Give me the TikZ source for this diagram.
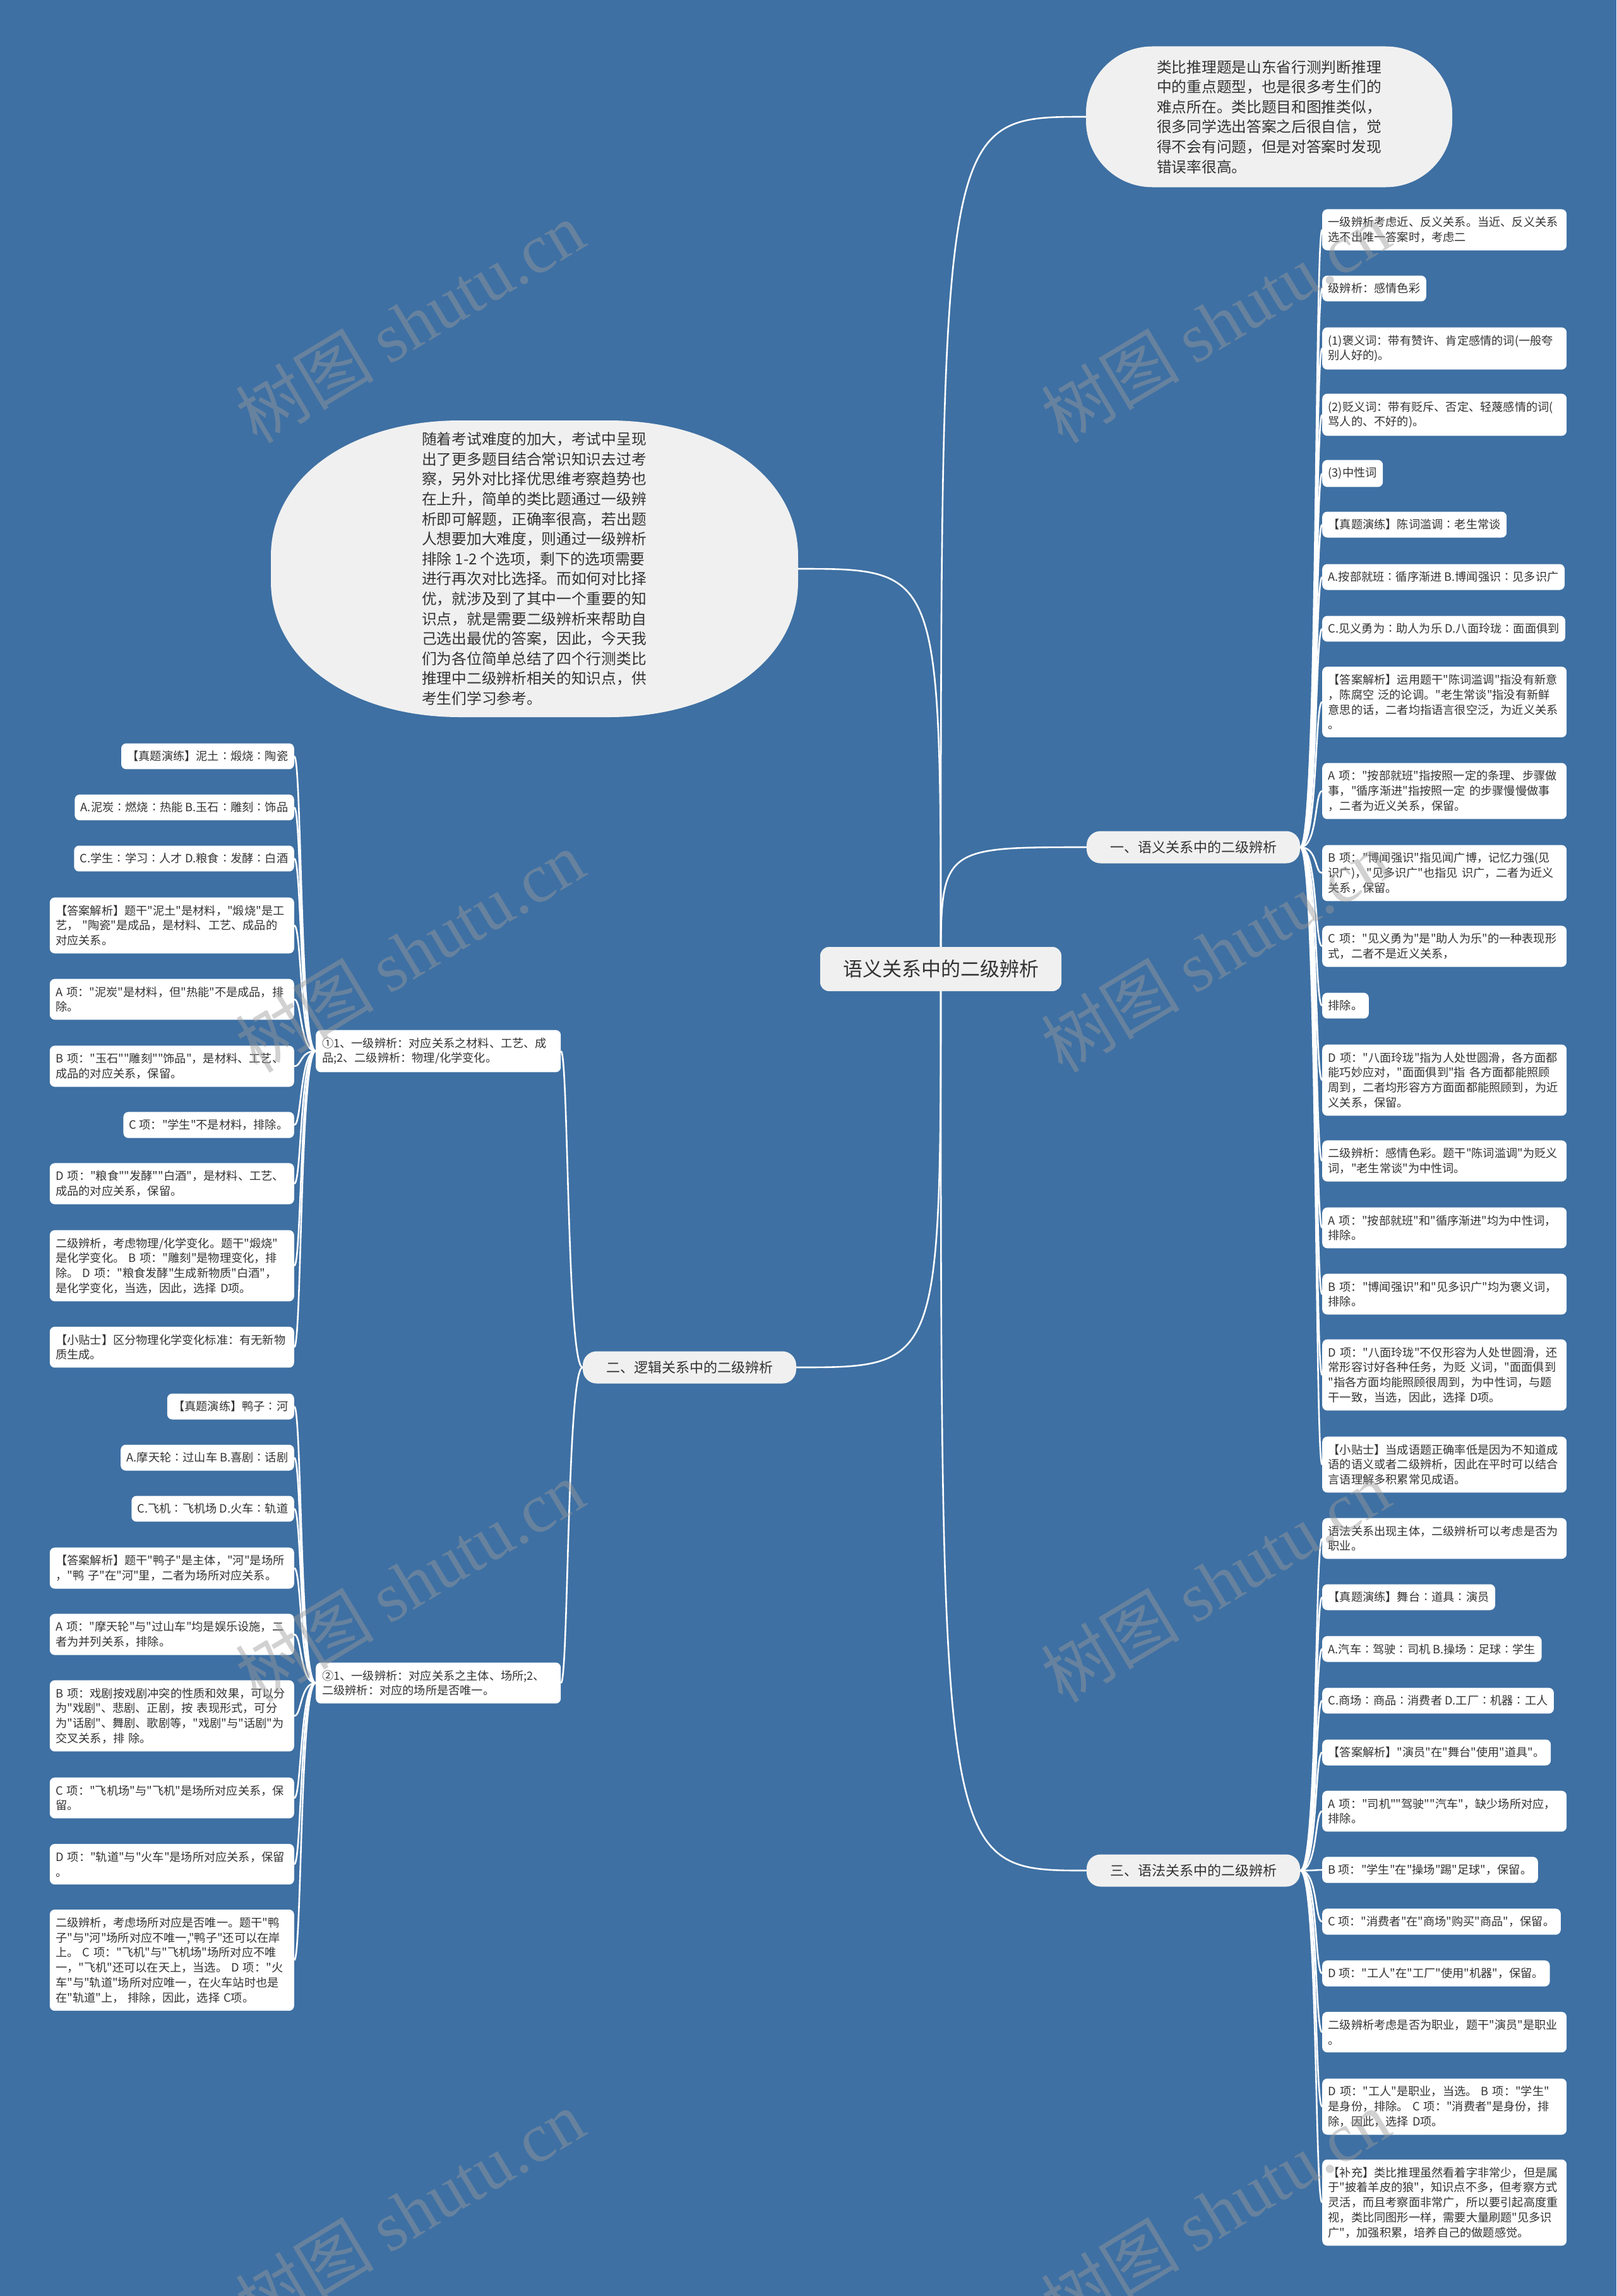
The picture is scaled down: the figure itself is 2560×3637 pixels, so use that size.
\documentclass[tikz,border=0pt]{standalone}
\usepackage{fontspec}
\setmainfont{Noto Sans CJK SC}[Ligatures=TeXOff]
\newfontfamily\wmlatin{Liberation Serif}
\newfontfamily\wmcjk{Noto Sans CJK SC}
\usetikzlibrary{calc}
\definecolor{bgblue}{HTML}{3E70A3}
\definecolor{bubble}{HTML}{F0F0F0}
\definecolor{txt}{HTML}{333333}
\definecolor{wmgray}{HTML}{9A9A9A}
\pgfdeclarelayer{back}
\pgfdeclarelayer{lines}
\pgfdeclarelayer{wm}
\pgfsetlayers{back,lines,main,wm}
\begin{document}
\begin{tikzpicture}[x=1pt,y=-1pt,
  leaf/.style={fill=white, rounded corners=8pt, text=txt, font=\fontsize{18.2}{23.8}\selectfont, inner xsep=9.5pt, inner ysep=12pt},
  wide/.style={text width=368pt, align=left},
  rl/.style={leaf, anchor=west},
  ll/.style={leaf, anchor=east},
  branchbox/.style={fill=bubble, rounded corners=22pt, text=txt, font=\fontsize{22}{26}\selectfont, minimum width=338pt, minimum height=51pt, inner sep=0pt},
  conn/.style={draw=white, line width=2.6pt},
  wmtext/.style={text=wmgray, opacity=0.45, rotate=31, font=\fontsize{110}{120}\selectfont}
]
\useasboundingbox (0,0) rectangle (2560,3637);
\begin{pgfonlayer}{back}
\fill[bgblue] (0,0) rectangle (2560,3637);
\end{pgfonlayer}

% centre and bubbles
\node[fill=bubble, rounded corners=14pt, text=txt, font=\fontsize{31}{36}\selectfont, minimum width=382pt, minimum height=70pt, inner sep=0pt] (c) at (1490,1535) {语义关系中的二级辨析};
\node[fill=bubble, rounded corners=105pt, text=txt, font=\fontsize{23.7}{31.6}\selectfont, minimum width=580pt, minimum height=223pt, inner sep=0pt, align=left] (tb) at (2010,185) {类比推理题是山东省行测判断推理\\中的重点题型，也是很多考生们的\\难点所在。类比题目和图推类似，\\很多同学选出答案之后很自信，觉\\得不会有问题，但是对答案时发现\\错误率很高。};
\fill[bubble] (729,666) -- (964,666) .. controls (1138,666) and (1264,756) .. (1264,881) -- (1264,921) .. controls (1264,1046) and (1138,1136) .. (964,1136) -- (729,1136) .. controls (555,1136) and (429,1046) .. (429,921) -- (429,881) .. controls (429,756) and (555,666) .. (729,666) -- cycle;
\node[text=txt, font=\fontsize{23.7}{31.6}\selectfont, minimum width=835pt, minimum height=470pt, inner sep=0pt, align=left] (el) at (846,901) {随着考试难度的加大，考试中呈现\\出了更多题目结合常识知识去过考\\察，另外对比择优思维考察趋势也\\在上升，简单的类比题通过一级辨\\析即可解题，正确率很高，若出题\\人想要加大难度，则通过一级辨析\\排除~1-2~个选项，剩下的选项需要\\进行再次对比选择。而如何对比择\\优，就涉及到了其中一个重要的知\\识点，就是需要二级辨析来帮助自\\己选出最优的答案，因此，今天我\\们为各位简单总结了四个行测类比\\推理中二级辨析相关的知识点，供\\考生们学习参考。};

% branches
\node[branchbox] (b1) at (1890,1342) {一、语义关系中的二级辨析};
\node[branchbox] (b2) at (1092,2166) {二、逻辑关系中的二级辨析};
\node[branchbox] (b3) at (1890,2963) {三、语法关系中的二级辨析};

% mid nodes
\node[leaf, wide, anchor=west, inner xsep=10pt] (m1) at (500,1665) {①1、一级辨析：对应关系之材料、工艺、成\\品;2、二级辨析：物理/化学变化。};
\node[leaf, wide, anchor=west, inner xsep=10pt] (m2) at (500,2666) {②1、一级辨析：对应关系之主体、场所;2、\\二级辨析：对应的场所是否唯一。};

% right leaves of branch 1
\node[rl, wide] (r1) at (2094,364) {一级辨析考虑近、反义关系。当近、反义关系\\选不出唯一答案时，考虑二};
\node[rl] (r2) at (2094,457) {级辨析：感情色彩};
\node[rl, wide] (r3) at (2094,552) {(1)褒义词：带有赞许、肯定感情的词(一般夸\\别人好的)。};
\node[rl, wide] (r4) at (2094,657) {(2)贬义词：带有贬斥、否定、轻蔑感情的词(\\骂人的、不好的)。};
\node[rl] (r5) at (2094,750) {(3)中性词};
\node[rl] (r6) at (2094,831) {【真题演练】陈词滥调∶老生常谈};
\node[rl] (r7) at (2094,914) {A.按部就班∶循序渐进~B.博闻强识∶见多识广};
\node[rl] (r8) at (2094,996) {C.见义勇为∶助人为乐~D.八面玲珑∶面面俱到};
\node[rl, wide] (r9) at (2094,1112) {【答案解析】运用题干"陈词滥调"指没有新意\\，陈腐空~泛的论调。"老生常谈"指没有新鲜\\意思的话，二者均指语言很空泛，为近义关系\\。};
\node[rl, wide] (r10) at (2094,1253) {A~项："按部就班"指按照一定的条理、步骤做\\事，"循序渐进"指按照一定~的步骤慢慢做事\\，二者为近义关系，保留。};
\node[rl, wide] (r11) at (2094,1383) {B~项："博闻强识"指见闻广博，记忆力强(见\\识广)，"见多识广"也指见~识广，二者为近义\\关系，保留。};
\node[rl, wide] (r12) at (2094,1499) {C~项："见义勇为"是"助人为乐"的一种表现形\\式，二者不是近义关系，};
\node[rl] (r13) at (2094,1593) {排除。};
\node[rl, wide] (r14) at (2094,1711) {D~项："八面玲珑"指为人处世圆滑，各方面都\\能巧妙应对，"面面俱到"指~各方面都能照顾\\周到，二者均形容方方面面都能照顾到，为近\\义关系，保留。};
\node[rl, wide] (r15) at (2094,1839) {二级辨析：感情色彩。题干"陈词滥调"为贬义\\词，"老生常谈"为中性词。};
\node[rl, wide] (r16) at (2094,1945) {A~项："按部就班"和"循序渐进"均为中性词，\\排除。};
\node[rl, wide] (r17) at (2094,2050) {B~项："博闻强识"和"见多识广"均为褒义词，\\排除。};
\node[rl, wide] (r18) at (2094,2178) {D~项："八面玲珑"不仅形容为人处世圆滑，还\\常形容讨好各种任务，为贬~义词，"面面俱到\\"指各方面均能照顾很周到，为中性词，与题\\干一致，当选，因此，选择~D项。};
\node[rl, wide] (r19) at (2094,2320) {【小贴士】当成语题正确率低是因为不知道成\\语的语义或者二级辨析，因此在平时可以结合\\言语理解多积累常见成语。};

% right leaves of branch 3
\node[rl, wide] (t1) at (2094,2437) {语法关系出现主体，二级辨析可以考虑是否为\\职业。};
\node[rl] (t2) at (2094,2530) {【真题演练】舞台∶道具∶演员};
\node[rl] (t3) at (2094,2612) {A.汽车∶驾驶∶司机~B.操场∶足球∶学生};
\node[rl] (t4) at (2094,2694) {C.商场∶商品∶消费者~D.工厂∶机器∶工人};
\node[rl] (t5) at (2094,2776) {【答案解析】"演员"在"舞台"使用"道具"。};
\node[rl, wide] (t6) at (2094,2869) {A~项："司机""驾驶""汽车"，缺少场所对应，\\排除。};
\node[rl] (t7) at (2094,2962) {B~项："学生"在"操场"踢"足球"，保留。};
\node[rl] (t8) at (2094,3044) {C~项："消费者"在"商场"购买"商品"，保留。};
\node[rl] (t9) at (2094,3126) {D~项："工人"在"工厂"使用"机器"，保留。};
\node[rl, wide] (t10) at (2094,3219) {二级辨析考虑是否为职业，题干"演员"是职业\\。};
\node[rl, wide] (t11) at (2094,3337) {D~项："工人"是职业，当选。~B~项："学生"\\是身份，排除。~C~项："消费者"是身份，排\\除，因此，选择~D项。};
\node[rl, wide] (t12) at (2094,3489) {【补充】类比推理虽然看着字非常少，但是属\\于"披着羊皮的狼"，知识点不多，但考察方式\\灵活，而且考察面非常广，所以要引起高度重\\视，类比同图形一样，需要大量刷题"见多识\\广"，加强积累，培养自己的做题感觉。};

% left leaves under m1
\node[ll] (a1) at (466,1198) {【真题演练】泥土∶煅烧∶陶瓷};
\node[ll] (a2) at (466,1279) {A.泥炭∶燃烧∶热能~B.玉石∶雕刻∶饰品};
\node[ll] (a3) at (466,1360) {C.学生∶学习∶人才~D.粮食∶发酵∶白酒};
\node[ll, wide] (a4) at (466,1466) {【答案解析】题干"泥土"是材料，"煅烧"是工\\艺，~"陶瓷"是成品，是材料、工艺、成品的\\对应关系。};
\node[ll, wide] (a5) at (466,1583) {A~项："泥炭"是材料，但"热能"不是成品，排\\除。};
\node[ll, wide] (a6) at (466,1689) {B~项："玉石""雕刻""饰品"，是材料、工艺、\\成品的对应关系，保留。};
\node[ll] (a7) at (466,1782) {C~项："学生"不是材料，排除。};
\node[ll, wide] (a8) at (466,1875) {D~项："粮食""发酵""白酒"，是材料、工艺、\\成品的对应关系，保留。};
\node[ll, wide] (a9) at (466,2005) {二级辨析，考虑物理/化学变化。题干"煅烧"\\是化学变化。~B~项："雕刻"是物理变化，排\\除。~D~项："粮食发酵"生成新物质"白酒"，\\是化学变化，当选，因此，选择~D项。};
\node[ll, wide] (a10) at (466,2134) {【小贴士】区分物理化学变化标准：有无新物\\质生成。};

% left leaves under m2
\node[ll] (d1) at (466,2228) {【真题演练】鸭子∶河};
\node[ll] (d2) at (466,2309) {A.摩天轮∶过山车~B.喜剧∶话剧};
\node[ll] (d3) at (466,2390) {C.飞机∶飞机场~D.火车∶轨道};
\node[ll, wide] (d4) at (466,2484) {【答案解析】题干"鸭子"是主体，"河"是场所\\，"鸭~子"在"河"里，二者为场所对应关系。};
\node[ll, wide] (d5) at (466,2589) {A~项："摩天轮"与"过山车"均是娱乐设施，二\\者为并列关系，排除。};
\node[ll, wide] (d6) at (466,2718) {B~项：戏剧按戏剧冲突的性质和效果，可以分\\为"戏剧"、悲剧、正剧，按~表现形式，可分\\为"话剧"、舞剧、歌剧等，"戏剧"与"话剧"为\\交叉关系，排~除。};
\node[ll, wide] (d7) at (466,2848) {C~项："飞机场"与"飞机"是场所对应关系，保\\留。};
\node[ll, wide] (d8) at (466,2953) {D~项："轨道"与"火车"是场所对应关系，保留\\。};
\node[ll, wide] (d9) at (466,3105) {二级辨析，考虑场所对应是否唯一。题干"鸭\\子"与"河"场所对应不唯一,"鸭子"还可以在岸\\上。~C~项："飞机"与"飞机场"场所对应不唯\\一，"飞机"还可以在天上，当选。~D~项："火\\车"与"轨道"场所对应唯一，在火车站时也是\\在"轨道"上，~排除，因此，选择~C项。};

% connectors
\begin{pgfonlayer}{lines}
\draw[conn] (c.center) .. controls (c.center |- tb.west) .. (tb.west);
\draw[conn] (c.center) .. controls (c.center |- b1.west) .. (b1.west);
\draw[conn] (c.center) .. controls (c.center |- b3.west) .. (b3.west);
\draw[conn] (c.center) .. controls (c.center |- el.east) .. (el.east);
\draw[conn] (c.center) .. controls (c.center |- b2.east) .. (b2.east);
\foreach \n in {r1,r2,r3,r4,r5,r6,r7,r8,r9,r10,r11,r12,r13,r14,r15,r16,r17,r18,r19}
  \draw[conn] (b1.east) .. controls +(28,0) and +(-12,0) .. (\n.west);
\foreach \n in {t1,t2,t3,t4,t5,t6,t7,t8,t9,t10,t11,t12}
  \draw[conn] (b3.east) .. controls +(28,0) and +(-12,0) .. (\n.west);
\foreach \n in {m1,m2}
  \draw[conn] (b2.west) .. controls +(-25,0) and +(12,0) .. (\n.east);
\foreach \n in {a1,a2,a3,a4,a5,a6,a7,a8,a9,a10}
  \draw[conn] (m1.west) .. controls +(-25,0) and +(12,0) .. (\n.east);
\foreach \n in {d1,d2,d3,d4,d5,d6,d7,d8,d9}
  \draw[conn] (m2.west) .. controls +(-25,0) and +(12,0) .. (\n.east);
\end{pgfonlayer}

% watermarks
\begin{pgfonlayer}{wm}
\foreach \wy [count=\i] in {510,1507,2505,3502} {
  \node[wmtext] (wl\i) at (649,\wy) {\wmcjk 树图 \wmlatin shutu.cn};
  \node[wmtext] (wr\i) at (1925,\wy) {\wmcjk 树图 \wmlatin shutu.cn};
}
\end{pgfonlayer}
\end{tikzpicture}
\end{document}
